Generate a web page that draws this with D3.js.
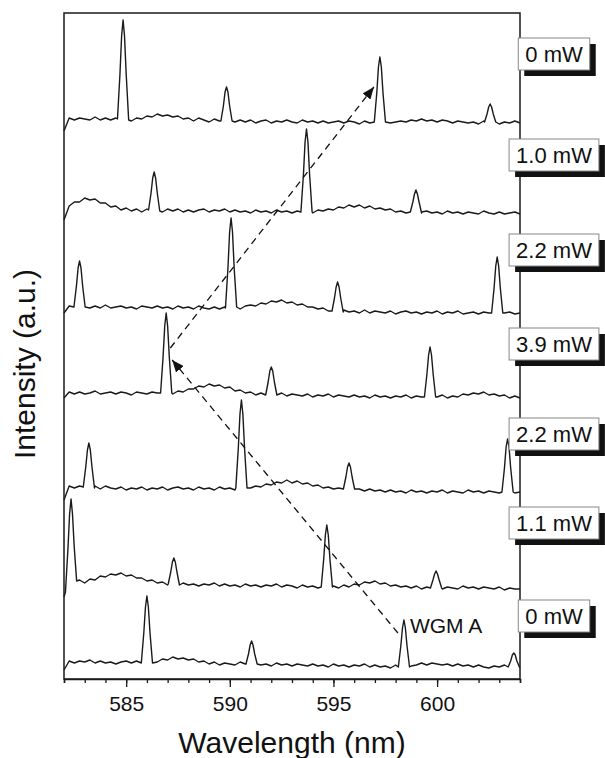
<!DOCTYPE html>
<html>
<head>
<meta charset="utf-8">
<script src="https://cdn.jsdelivr.net/npm/d3@7"></script>
<style>
  body { margin: 0; background: #fff; }
  svg text { font-family: "Liberation Sans", Arial, Helvetica, sans-serif; fill: #111; }
</style>
</head>
<body>
<svg id="chart" width="605" height="758"></svg>
<script>
// spectra sampled on a 0.25 nm grid starting at 582 nm (baseline + humps),
// sharp WGM peaks listed separately as [wavelength, intensity] points
var wlStart = 582, wlStep = 0.25;

var powerLabels = ["0 mW", "1.0 mW", "2.2 mW", "3.9 mW", "2.2 mW", "1.1 mW", "0 mW"];
var traceOffsets = [560, 469, 372, 286, 192, 97, 17];
var labelLevels = [625, 524, 429, 335, 245, 156, 63];
var majorTicks = [585, 590, 595, 600];
var minorTicks = d3.range(582, 605, 1);

var base1 = [-12,1,-1,1,0,-1,2,-1,1,-1, 1,0,0,-2,1,0,3,2,5,3, 4,2,3,0,1,-2,1,-1,-3,0,
  -2,-3,0,-3,-1,-3,-1,-4,-2,-1, -4,-2,-3,-1,-3,-4,-1,-3,-2,-4, -2,-4,-3,-2,-4,-2,-3,-5,-2,-4,
  -3,-4,-2,-4,-3,-2,-3,-1,-2,0, -2,-1,-3,-1,-2,-4,-2,-3,-4,-3, -5,-2,-4,-3,-5,-3,-4,-2,-4];
var peaks1 = [
  [[584.58,0],[584.70,45],[584.78,83],[584.85,99],[584.92,83],[585.00,45],[585.12,-1]],
  [[589.57,-2],[589.69,13],[589.77,27],[589.84,32],[589.91,27],[589.99,13],[590.11,-2]],
  [[596.97,-3],[597.09,26],[597.17,52],[597.24,62],[597.31,52],[597.39,26],[597.51,-3]],
  [[602.29,-3],[602.41,5],[602.49,12],[602.56,15],[602.63,12],[602.71,5],[602.83,-3]]
];

var base2 = [-10,4,8,8,12,10,11,7,7,3, 4,0,2,-1,1,-2,1,0,0,-2, 1,-1,1,-2,0,-2,0,1,-2,0,
  -1,1,-2,0,-2,-1,-3,0,-2,-1, -3,0,-2,-1,-3,-1,-2,-2,-3,0, -1,1,0,3,2,5,3,5,2,4,
  1,2,0,1,-2,-1,-3,0,-2,-3, -1,-3,-2,-4,-1,-3,-2,-4,-2,-3, -4,-1,-3,-4,-2,-4,-3,-2,-4];
var peaks2 = [
  [[586.08,0],[586.20,17],[586.28,32],[586.35,38],[586.42,32],[586.50,17],[586.62,-1]],
  [[593.43,-2],[593.55,35],[593.63,68],[593.70,81],[593.77,68],[593.85,35],[593.97,-2]],
  [[598.71,-2],[598.83,8],[598.91,16],[598.98,20],[599.05,16],[599.13,8],[599.25,-2]]
];

var base3 = [-6,1,-1,0,1,-1,1,-1,2,-1, 0,1,-1,0,-2,1,0,-1,1,-1, 0,-2,1,-1,0,-2,1,-1,-2,0,
  -2,0,-1,0,-2,1,2,1,4,3, 6,5,7,4,5,2,3,0,0,-2, -1,-4,-2,-5,-3,-5,-4,-6,-3,-6,
  -4,-5,-6,-4,-7,-5,-4,-6,-5,-7, -5,-6,-4,-7,-5,-6,-4,-7,-6,-5, -7,-5,-6,-4,-7,-6,-5,-7,-6];
var peaks3 = [
  [[582.48,0],[582.60,21],[582.68,39],[582.75,46],[582.82,39],[582.90,21],[583.02,0]],
  [[589.79,-1],[589.91,39],[589.99,75],[590.06,89],[590.13,75],[590.21,39],[590.33,0]],
  [[594.93,-4],[595.05,9],[595.13,20],[595.20,25],[595.27,20],[595.35,9],[595.47,-5]],
  [[602.63,-6],[602.75,19],[602.83,41],[602.90,50],[602.97,41],[603.05,19],[603.17,-6]]
];

var base4 = [-5,1,-1,1,-1,0,2,-1,0,1, -1,1,0,-2,1,0,-1,1,0,-1, 1,-1,2,1,4,4,7,6,9,7,
  8,5,6,2,3,0,1,-2,0,-3, -1,-2,0,-3,-1,-2,-3,-1,-4,-2, -3,-1,-4,-2,-3,-4,-2,-4,-3,-5,
  -2,-4,-3,-5,-3,-4,-2,-5,-3,-4, -5,-3,-4,-2,-5,-3,-4,-1,-2,0, -1,1,-2,-1,-3,-2,-5,-3,-5];
var peaks4 = [
  [[586.66,0],[586.78,36],[586.86,67],[586.93,80],[587.00,67],[587.08,36],[587.20,0]],
  [[591.73,-2],[591.85,11],[591.93,22],[592.00,26],[592.07,22],[592.15,11],[592.27,-2]],
  [[599.39,-4],[599.51,19],[599.59,38],[599.66,46],[599.73,38],[599.81,19],[599.93,-4]]
];

var base5 = [-13,1,-1,1,0,0,1,-2,1,-1, -2,0,-3,-1,-2,0,-3,-1,-2,0, -3,-1,0,-2,-1,-3,0,-2,-1,-3,
  0,-2,-1,-3,0,-2,-1,1,0,3, 2,5,4,7,4,6,3,4,1,2, -1,0,-2,-1,-3,-1,-3,-2,-4,-2,
  -4,-3,-5,-3,-5,-4,-6,-3,-5,-4, -6,-4,-5,-3,-6,-4,-5,-6,-3,-5, -4,-6,-4,-5,-6,-3,-5,-6,-5];
var peaks5 = [
  [[582.93,0],[583.05,20],[583.13,37],[583.20,44],[583.27,37],[583.35,20],[583.47,-1]],
  [[590.29,-1],[590.41,39],[590.49,73],[590.56,87],[590.63,73],[590.71,39],[590.83,-1]],
  [[595.48,-2],[595.60,10],[595.68,20],[595.75,24],[595.82,20],[595.90,10],[596.02,-2]],
  [[603.13,-5],[603.25,19],[603.33,40],[603.40,48],[603.47,40],[603.55,19],[603.67,-5]]
];

var base6 = [-15,0,0,2,-1,3,2,6,5,8, 7,9,6,7,4,4,1,2,-1,0, -3,-1,-4,-1,-3,-2,-4,-2,-3,-1,
  -4,-2,-4,-3,-5,-2,-4,-3,-5,-3, -4,-2,-5,-3,-4,-6,-3,-5,-4,-6, -3,-5,-4,-6,-3,-5,-2,-3,0,-1,
  1,-2,-1,-4,-3,-5,-4,-6,-4,-7, -5,-6,-4,-7,-5,-6,-7,-4,-6,-5, -7,-5,-6,-7,-5,-8,-6,-7,-7];
var peaks6 = [
  [[582.07,-10],[582.19,33],[582.27,68],[582.34,83],[582.41,68],[582.49,36],[582.61,1]],
  [[587.03,-2],[587.15,10],[587.23,20],[587.30,24],[587.37,20],[587.45,10],[587.57,-3]],
  [[594.41,-5],[594.53,23],[594.61,47],[594.68,57],[594.75,47],[594.83,23],[594.95,-5]],
  [[599.68,-6],[599.80,2],[599.88,8],[599.95,11],[600.02,8],[600.10,2],[600.22,-6]]
];

var base7 = [-8,1,-1,1,0,2,-1,1,-1,0, -2,0,1,-1,1,-1,0,1,0,3, 2,5,3,4,2,3,0,1,-2,0,
  -3,-1,-2,-3,0,-2,-3,-1,-3,-2, -4,-1,-3,-2,-4,-2,-3,-4,-2,-4, -3,-5,-2,-4,-3,-5,-3,-4,-2,-5,
  -3,-5,-4,-6,-3,-5,-5,-4,-3,-1, -3,-1,-2,-3,-2,-4,-2,-4,-3,-5, -3,-5,-6,-4,-5,-3,-6,-4,-6];
var peaks7 = [
  [[585.73,-1],[585.85,29],[585.93,55],[586.00,66],[586.07,55],[586.15,29],[586.27,-1]],
  [[590.78,-2],[590.90,8],[590.98,17],[591.05,21],[591.12,17],[591.20,8],[591.32,-2]],
  [[598.13,-5],[598.25,16],[598.33,34],[598.40,42],[598.47,34],[598.55,16],[598.67,-5]],
  [[603.43,-5],[603.55,1],[603.63,7],[603.70,9],[603.77,7],[603.85,1],[603.97,-5]]
];

var baselines = [base1, base2, base3, base4, base5, base6, base7];
var peakLists = [peaks1, peaks2, peaks3, peaks4, peaks5, peaks6, peaks7];

// dashed arrows: [wavelength, level] start -> end
var arrowDown = [[598.11, 46], [587.22, 319]];
var arrowUp = [[587.13, 331], [596.95, 592]];
var wgmLabel = { wl: 598.69, level: 46, text: "WGM A" };

var svg = d3.select("#chart");
var margin = { left: 64, right: 85, top: 13, bottom: 79 };
var width = 605 - margin.left - margin.right,
    height = 758 - margin.top - margin.bottom;

var x = d3.scaleLinear().domain([582, 604]).range([margin.left, margin.left + width]);
var y = d3.scaleLinear().domain([0, 666]).range([margin.top + height, margin.top]);

function buildTrace(base, peaks) {
  var pts = base.map(function (v, i) { return [wlStart + i * wlStep, v]; });
  // drop grid points that sit inside a peak
  pts = pts.filter(function (p) {
    return !peaks.some(function (pk) { return p[0] > pk[0][0] && p[0] < pk[pk.length - 1][0]; });
  });
  peaks.forEach(function (pk) { pts = pts.concat(pk); });
  pts.sort(function (a, b) { return a[0] - b[0]; });
  return pts;
}

var defs = svg.append("defs");
defs.append("marker")
  .attr("id", "head")
  .attr("viewBox", "0 0 12 10")
  .attr("refX", 12).attr("refY", 5)
  .attr("markerWidth", 12).attr("markerHeight", 10)
  .attr("markerUnits", "userSpaceOnUse")
  .attr("orient", "auto")
  .append("path")
  .attr("d", "M0,0 L12,5 L0,10 Z")
  .attr("fill", "#111");

// traces
var line = d3.line().x(function (d) { return x(d[0]); }).y(function (d) { return y(d[1]); });
baselines.forEach(function (base, i) {
  var off = traceOffsets[i];
  var pts = buildTrace(base, peakLists[i]).map(function (p) { return [p[0], p[1] + off]; });
  svg.append("path")
    .datum(pts)
    .attr("d", line)
    .attr("fill", "none")
    .attr("stroke", "#1a1a1a")
    .attr("stroke-width", 1.4)
    .attr("stroke-linejoin", "round");
});

// arrows
[arrowDown, arrowUp].forEach(function (a) {
  svg.append("line")
    .attr("x1", x(a[0][0])).attr("y1", y(a[0][1]))
    .attr("x2", x(a[1][0])).attr("y2", y(a[1][1]))
    .attr("stroke", "#111")
    .attr("stroke-width", 1.3)
    .attr("stroke-dasharray", "7,5")
    .attr("marker-end", "url(#head)");
});

svg.append("text")
  .attr("x", x(wgmLabel.wl)).attr("y", y(wgmLabel.level))
  .attr("font-size", 21)
  .text(wgmLabel.text);

// frame
svg.append("rect")
  .attr("x", margin.left).attr("y", margin.top)
  .attr("width", width).attr("height", height)
  .attr("fill", "none")
  .attr("stroke", "#1a1a1a")
  .attr("stroke-width", 1.5);

// x axis: minor + major ticks
var axisY = margin.top + height;
svg.append("g")
  .attr("transform", "translate(0," + axisY + ")")
  .call(d3.axisBottom(x).tickValues(minorTicks).tickSize(4).tickFormat(""))
  .call(function (g) {
    g.select(".domain").attr("stroke", "#1a1a1a").attr("stroke-width", 1.5);
    g.selectAll(".tick line").attr("stroke", "#1a1a1a").attr("stroke-width", 1.3);
  });
svg.append("g")
  .attr("transform", "translate(0," + axisY + ")")
  .call(d3.axisBottom(x).tickValues(majorTicks).tickSize(8).tickPadding(9).tickFormat(d3.format("d")))
  .call(function (g) {
    g.select(".domain").remove();
    g.selectAll(".tick line").attr("stroke", "#1a1a1a").attr("stroke-width", 1.3);
    g.selectAll(".tick text")
      .attr("font-size", 21)
      .attr("font-family", "'Liberation Sans', Arial, sans-serif")
      .attr("fill", "#111");
  });

// axis titles
svg.append("text")
  .attr("x", x(593)).attr("y", 753)
  .attr("text-anchor", "middle")
  .attr("font-size", 30)
  .text("Wavelength (nm)");
svg.append("text")
  .attr("transform", "translate(35," + 364 + ") rotate(-90)")
  .attr("text-anchor", "middle")
  .attr("font-size", 30)
  .text("Intensity (a.u.)");

// power labels with drop-shadow boxes
var boxCx = 554, boxH = 32, pad = 7, shadow = 6;
powerLabels.forEach(function (lab, i) {
  var g = svg.append("g").attr("transform", "translate(" + boxCx + "," + y(labelLevels[i]) + ")");
  var sh = g.append("rect").attr("fill", "#111");
  var bx = g.append("rect").attr("fill", "#fff").attr("stroke", "#888").attr("stroke-width", 1);
  var t = g.append("text")
    .attr("text-anchor", "middle")
    .attr("dy", "0.36em")
    .attr("font-size", 22)
    .text(lab);
  var w = t.node().getComputedTextLength() + 2 * pad;
  bx.attr("x", -w / 2).attr("y", -boxH / 2).attr("width", w).attr("height", boxH);
  sh.attr("x", -w / 2 + shadow).attr("y", -boxH / 2 + shadow).attr("width", w).attr("height", boxH);
});
</script>
</body>
</html>
